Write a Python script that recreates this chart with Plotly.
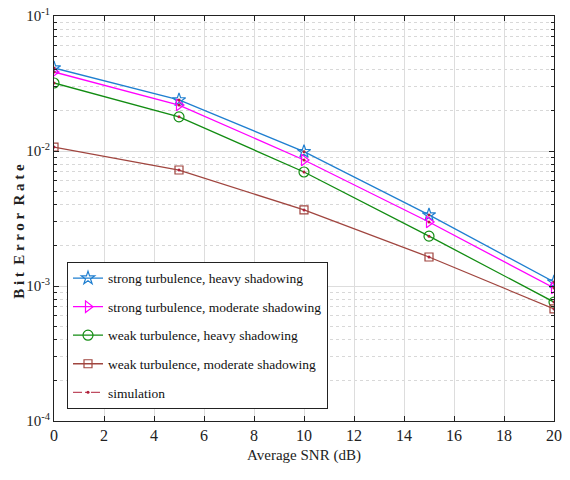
import plotly.graph_objects as go

snr = [0, 5, 10, 15, 20]
strong_heavy = [0.0412, 0.0239, 0.00989, 0.00336, 0.00107]
strong_moderate = [0.0385, 0.0219, 0.00858, 0.00298, 0.000966]
weak_heavy = [0.0319, 0.0179, 0.00699, 0.00234, 0.00076]
weak_moderate = [0.0107, 0.00723, 0.00366, 0.00164, 0.000676]
names = ["strong turbulence, heavy shadowing",
         "strong turbulence, moderate shadowing",
         "weak turbulence, heavy shadowing",
         "weak turbulence, moderate shadowing"]
colors = ["#1f7fd0", "#ff00ff", "#128c12", "#a0453f"]
symbols = ["star-open", "triangle-right-open", "circle-open", "square-open"]
sizes = [10, 10, 10, 8]
series = [strong_heavy, strong_moderate, weak_heavy, weak_moderate]
yticks = [1e-4, 1e-3, 1e-2, 1e-1]
yticktext = ["10<sup>-4</sup>", "10<sup>-3</sup>", "10<sup>-2</sup>", "10<sup>-1</sup>"]
xticks = list(range(0, 21, 2))
minor_y = [m * 10.0 ** e for e in (-4, -3, -2) for m in range(2, 10)]

fig = go.Figure()
for i, (s, n, c, sym, sz) in enumerate(zip(series, names, colors, symbols, sizes)):
    fig.add_trace(go.Scatter(x=snr, y=s, name=n, mode="lines+markers", legendgroup=f"g{i}",
                             line=dict(color=c, width=1.3),
                             marker=dict(symbol=sym, size=sz, color=c, line=dict(width=1.2, color=c))))
for i, s in enumerate(series):
    fig.add_trace(go.Scatter(x=snr, y=s, mode="markers", showlegend=False,
                             marker=dict(symbol="circle", size=3, color="#b0203a")))
fig.add_trace(go.Scatter(x=[None], y=[None], name="simulation", mode="lines+markers", legendgroup="g5",
                         line=dict(color="#b0203a", width=1, dash="dashdot"),
                         marker=dict(symbol="circle", size=3, color="#b0203a")))

font = "Liberation Serif, Times New Roman, serif"
fig.update_layout(
    width=570, height=480,
    margin=dict(l=54, r=16, t=16, b=59),
    paper_bgcolor="white", plot_bgcolor="white",
    font=dict(family=font, size=15, color="#222"),
    showlegend=True,
    legend=dict(x=0.026, y=0.393, xanchor="left", yanchor="top",
                bgcolor="white", bordercolor="#222", borderwidth=1,
                font=dict(family=font, size=13.5, color="#111"),
                itemwidth=30, tracegroupgap=8),
    xaxis=dict(range=[0, 20], tickvals=xticks, showgrid=True, gridcolor="#dddddd", gridwidth=1,
               ticks="inside", ticklen=5, tickcolor="#222", showline=True, linecolor="#222", linewidth=1,
               mirror="ticks", zeroline=False, automargin=False, ticklabeloverflow="allow",
               title=dict(text="Average SNR (dB)", font=dict(size=15), standoff=6),
               tickfont=dict(size=16)),
    yaxis=dict(type="log", range=[-4, -1], tickvals=yticks, ticktext=yticktext,
               showgrid=True, gridcolor="#dddddd", gridwidth=1,
               ticks="inside", ticklen=5, tickcolor="#222", showline=True, linecolor="#222", linewidth=1,
               mirror="ticks", zeroline=False, automargin=False, ticklabeloverflow="allow",
               minor=dict(tickvals=minor_y, ticks="inside", ticklen=3, tickcolor="#222", showgrid=True,
                          gridcolor="#d8d8d8", griddash="dot", gridwidth=1),
               tickfont=dict(size=15)),
    annotations=[dict(text="<b>B i t  E r r o r  R a t e</b>", textangle=-90, showarrow=False,
                      xref="paper", yref="paper", x=-0.07, y=0.467,
                      xanchor="center", yanchor="middle", font=dict(family=font, size=15, color="#222"))],
)
fig.write_html("out.html", config={"displayModeBar": False},
               post_script="document.body.style.margin='0';document.body.style.overflow='hidden';")
